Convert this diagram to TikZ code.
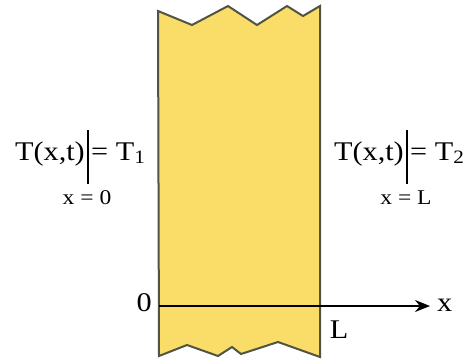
\documentclass[tikz,border=0pt]{standalone}
\usepackage{fontspec}
\setmainfont{Liberation Serif}
\newfontfamily\widefont[FakeStretch=1.12]{Liberation Serif}
\usetikzlibrary{arrows.meta,positioning}
\definecolor{slabfill}{RGB}{249,221,104}
\definecolor{slabline}{RGB}{80,84,66}

\begin{document}
\begin{tikzpicture}[x=1pt,y=-1pt,
  lbl/.style={font=\widefont\fontsize{27}{30}\selectfont,inner sep=0pt},
  sub/.style={font=\widefont\fontsize{21}{24}\selectfont,inner sep=0pt}]
  \useasboundingbox (0,0) rectangle (472,360);
  % slab, torn at top and bottom
  \draw[slabline,fill=slabfill,line width=2pt,line join=miter] (158,11) -- (192,25) -- (228,6) -- (257,25) -- (287,6) -- (303,16) -- (320,6) -- (320,357) -- (278,342) -- (241,354) -- (232,347) -- (218,356) -- (187,345) -- (159,356) -- cycle;
  % x axis
  \coordinate (ax0) at (159,306);
  \coordinate (ax1) at (430,306);
  \draw[line width=1.6pt,-{Stealth[length=15pt,width=12pt]}] (ax0) -- (ax1);
  \node[lbl,anchor=west] (xlbl) at (437,305) {x};
  \node[lbl,anchor=east] (orig) at (152,303) {0};
  \node[lbl] (Llbl) at (339,330) {L};
  % boundary conditions
  \foreach \s/\bx/\n/\b in {l/88/1/0,r/407/2/L} {
    \node[lbl,anchor=base east] (\s T) at (\bx-3,160) {T(x,t)};
    \draw[line width=1.2pt] (\bx,130) -- (\bx,184);
    \node[lbl,anchor=base west] (\s E) at (\bx+3,160) {= T\textsubscript{\n}};
    \node[sub,anchor=base] (\s S) at (\bx-1,204) {x = \b};
  }
\end{tikzpicture}
\end{document}
